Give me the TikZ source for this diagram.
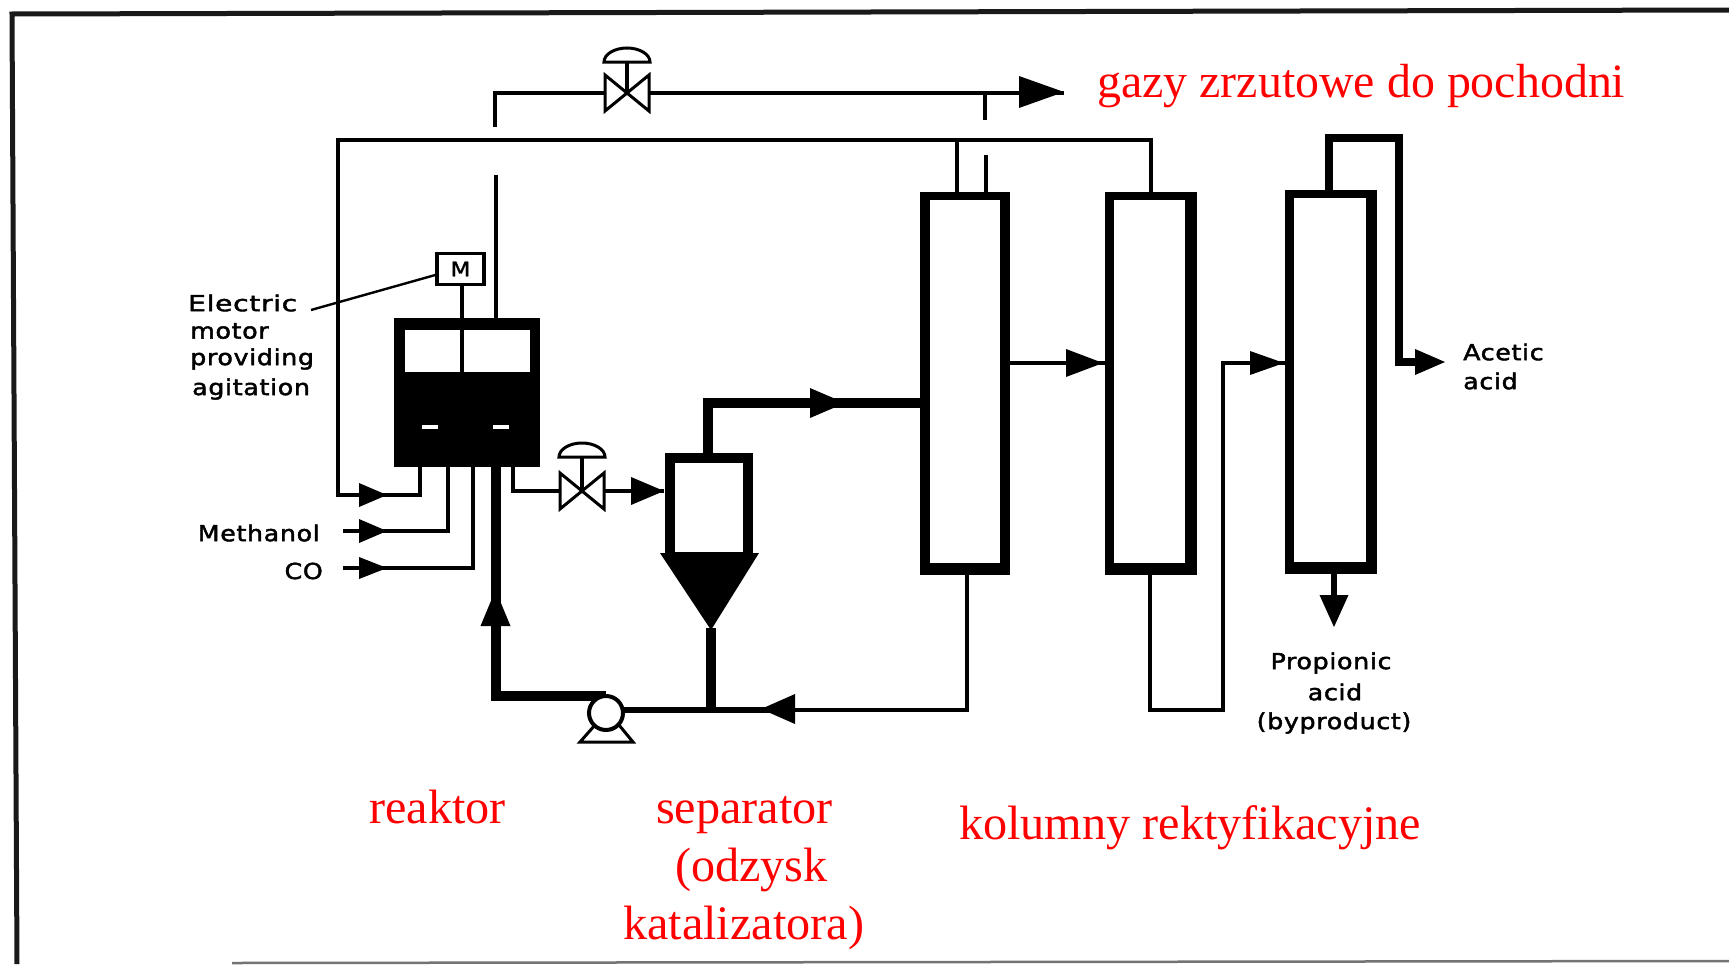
\documentclass[tikz,border=0pt]{standalone}
\usepackage{fontspec}
\setmainfont{Liberation Serif}
\newfontfamily\lab[FakeStretch=1.15,LetterSpace=3,FakeBold=2]{DejaVu Sans}
\newfontfamily\labw[FakeStretch=1.28,LetterSpace=3,FakeBold=2]{DejaVu Sans}
\definecolor{labred}{RGB}{255,0,0}
\tikzset{
  thin pipe/.style={draw=black,line width=3.4pt,line join=miter},
  mid pipe/.style={draw=black,line width=5.5pt,line join=miter},
  thick pipe/.style={draw=black,line width=10pt,line join=miter},
  head/.style={fill=black,draw=none},
  vessel/.style={fill=black,draw=none,inner sep=0pt,outer sep=0pt},
  window/.style={fill=white,draw=none,inner sep=0pt,outer sep=0pt},
  valve body/.style={draw=black,fill=white,line width=3pt,line join=miter},
  redlab/.style={text=labred,font=\fontsize{48.2}{52}\selectfont,inner sep=0pt,anchor=base west},
  blacklab/.style={text=black,font=\lab\fontsize{22}{24}\selectfont,inner sep=0pt},
  frameline/.style={draw=black!90,line width=5pt},
}
\newcommand{\vesselbox}[9]{%
  \node[vessel,minimum width=#4pt-#2pt,minimum height=#5pt-#3pt] (#1) at ({(#2+#4)/2},{(#3+#5)/2}) {};
  \node[window,minimum width=#8pt-#6pt,minimum height=#9pt-#7pt] (#1in) at ({(#6+#8)/2},{(#7+#9)/2}) {};}
\newcommand{\headR}[4]{\fill[head] (#1,#3-#4) -- (#2,#3) -- (#1,#3+#4) -- cycle;}
\newcommand{\headV}[4]{\fill[head] (#3-#4,#1) -- (#3,#2) -- (#3+#4,#1) -- cycle;}
\newcommand{\ctlvalve}[7]{% name cx cy halfw halfh stemtop domehalf
  \coordinate (#1) at (#2,#3);
  \draw[valve body] (#2-#4,#3-#5) -- (#2+#4,#3+#5) -- (#2+#4,#3-#5) -- (#2-#4,#3+#5) -- cycle;
  \draw[thin pipe] (#2,#3) -- (#2,#6);
  \draw[valve body] (#2-#7,#6) arc[start angle=180,end angle=360,x radius=#7,y radius=14] -- cycle;}
\begin{document}
\begin{tikzpicture}[x=1pt,y=-1pt]
\useasboundingbox (0,0) rectangle (1729,964);
\fill[white] (0,0) rectangle (1729,964);
% frame
\coordinate (f1) at (12,14); \coordinate (f2) at (1729,10); \coordinate (f3) at (17,964);
\coordinate (f4) at (232,963); \coordinate (f5) at (1729,961);
\draw[frameline] (f2) -- (f1) -- (f3);
\draw[draw=black!55,line width=2.5pt] (f4) -- (f5);
% named points
\coordinate (hdrL) at (338,140); \coordinate (hdrR) at (1151,140);
\coordinate (feedA) at (338,495); \coordinate (feedB) at (420,495);
% vessels
\vesselbox{col1}{920}{192}{1010}{575}{930}{200}{1000}{563}
\vesselbox{col2}{1105}{192}{1197}{575}{1114}{200}{1185}{563}
\vesselbox{col3}{1285}{190}{1377}{574}{1294}{198}{1366}{562}
\vesselbox{sep}{665}{453}{753}{556}{675}{463}{743}{552}
\vesselbox{rea}{394}{318}{540}{467}{405}{330}{530}{372}
\fill[head] (660,553) -- (759,553) -- (711,630) -- cycle;
% stirrer dashes
\node[window,minimum width=16pt,minimum height=4pt] (d1) at (430,427) {};
\node[window,minimum width=16pt,minimum height=4pt] (d2) at (501,427) {};
% motor
\node[draw=black,line width=3.4pt,fill=white,minimum width=47pt,minimum height=31pt,inner sep=0pt,font=\lab\fontsize{20}{20}\selectfont] (motor) at (460.5,269) {M};
\coordinate (shaft) at (462,372);
\draw[thin pipe,line width=4pt] (shaft |- motor.south) -- (shaft);
% electric label
\node[blacklab,font=\labw\fontsize{22}{24}\selectfont,anchor=west] (el1) at (188,303) {Electric};
\node[blacklab,anchor=west] (el2) at (190,331) {motor};
\node[blacklab,anchor=west] (el3) at (190,359) {providing};
\node[blacklab,anchor=west] (el4) at (192,389) {agitation};
\coordinate (ptr) at (311,310);
\draw[draw=black,line width=2.4pt] (ptr) -- ([yshift=-6pt]motor.west);
% header system
\draw[thin pipe] (feedB |- rea.south) -- (feedB) -- (feedA) -- (hdrL) -- (hdrR) -- (hdrR |- col2.north);
\coordinate (tie1) at (957,140); \coordinate (tie2) at (986,155); \coordinate (tap) at (985,92);
\coordinate (tapE) at (985,120);
\draw[thin pipe] (tie1) -- (tie1 |- col1.north);
\draw[thin pipe] (tie2) -- (tie2 |- col1.north);
% reactor vent
\coordinate (vent) at (496,175);
\draw[thin pipe] (vent) -- (vent |- rea.north);
\coordinate (flL) at (495,127); \coordinate (flC) at (495,93); \coordinate (flR) at (1064,93);
\draw[thin pipe] (flL) -- (flC) -- (flR);
\draw[thin pipe] (tap) -- (tapE);
\ctlvalve{v1}{627}{93}{22}{18}{62}{23}
\headR{1019}{1064}{92}{16}
% feeds
\coordinate (meS) at (343,531); \coordinate (meE) at (448,531);
\coordinate (coS) at (343,568); \coordinate (coE) at (473,568);
\draw[thin pipe] (meS) -- (meE) -- (meE |- rea.south);
\draw[thin pipe] (coS) -- (coE) -- (coE |- rea.south);
\headR{359}{387}{495}{12}
\headR{359}{387}{531}{12}
\headR{359}{387}{568}{11}
\node[blacklab,anchor=east] (meth) at (320,533) {Methanol};
\node[blacklab,anchor=east] (co) at (323,571) {CO};
% recycle
\coordinate (pipeT) at (495.5,696); \coordinate (pump) at (606,713);
\draw[thick pipe] (495.5,467) -- (pipeT) -- (606,696);
\headV{626}{590}{495.5}{15}
\coordinate (rcL) at (606,710); \coordinate (rcM) at (780,710); \coordinate (rcR) at (967,710);
\draw[mid pipe,line width=6.5pt] (rcL) -- (rcM);
\draw[thin pipe] (rcM) -- (rcR) -- (rcR |- col1.south);
\headR{795}{761}{709}{15}
\draw[thick pipe] (711,628) -- (711,712);
% pump
\draw[valve body] (595,725) -- (580,742) -- (633,742) -- (619,725) -- cycle;
\node[draw=black,fill=white,line width=4pt,circle,minimum size=34pt,inner sep=0pt] (pumpn) at (pump) {};
% reactor to separator
\coordinate (rsA) at (513,491); \coordinate (rsB) at (664,491);
\draw[thin pipe] (rsA |- rea.south) -- (rsA) -- (rsB);
\ctlvalve{v2}{582}{491}{22}{18}{457}{23}
\headR{631}{664}{491}{14}
% separator overhead
\coordinate (ovA) at (708,403);
\draw[thick pipe] (708,453) -- (ovA) -- (ovA -| col1.west);
\headR{810}{845}{403}{15}
% columns
\coordinate (c12) at (1009,363);
\draw[thin pipe] (c12) -- (c12 -| col2.west);
\headR{1066}{1103}{363}{14}
\coordinate (c2a) at (1150,710); \coordinate (c2b) at (1223,710); \coordinate (c2c) at (1223,363);
\draw[thin pipe] (c2a |- col2.south) -- (c2a) -- (c2b) -- (c2c) -- (c2c -| col3.west);
\headR{1250}{1284}{363}{12}
\coordinate (c3a) at (1329,138); \coordinate (c3b) at (1399,138); \coordinate (c3c) at (1399,362); \coordinate (c3d) at (1420,362);
\draw[draw=black,line width=8pt,line join=miter] (c3a |- col3.north) -- (c3a) -- (c3b) -- (c3c) -- (c3d);
\headR{1415}{1445}{362}{13}
\coordinate (c3s) at (1334,600);
\draw[mid pipe,line width=6.5pt] (c3s |- col3.south) -- (c3s);
\headV{595}{627}{1334}{14.5}
% black labels
\node[blacklab,anchor=west] (ac1) at (1463,352) {Acetic};
\node[blacklab,anchor=west] (ac2) at (1463,381) {acid};
\node[blacklab] (pr1) at (1331,663) {Propionic};
\node[blacklab] (pr2) at (1335,692) {acid};
\node[blacklab] (pr3) at (1334,723) {(byproduct)};
% red labels
\node[redlab,font=\fontsize{47.9}{52}\selectfont] (r1) at (1097,97) {gazy zrzutowe do pochodni};
\node[redlab] (r2) at (369,823) {reaktor};
\node[redlab] (r3) at (656,823) {separator};
\node[redlab] (r4) at (675,881) {(odzysk};
\node[redlab] (r5) at (623,939) {katalizatora)};
\node[redlab] (r6) at (959,839) {kolumny rektyfikacyjne};
\end{tikzpicture}
\end{document}
